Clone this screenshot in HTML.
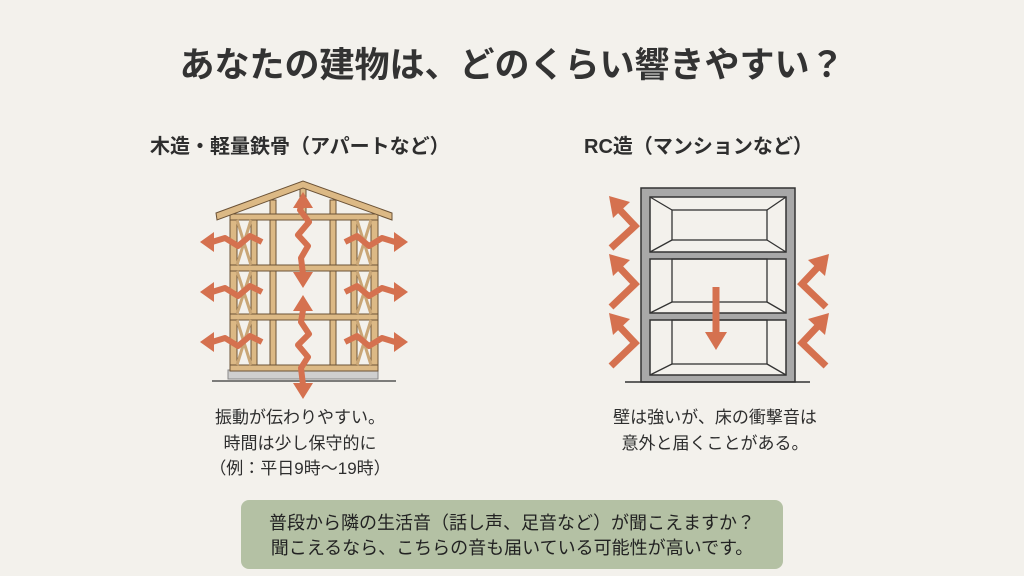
<!DOCTYPE html>
<html><head><meta charset="utf-8"><style>
html,body{margin:0;padding:0;}
body{width:1024px;height:576px;background:#f3f1ec;overflow:hidden;position:relative;font-family:"Liberation Sans","Noto Sans CJK JP",sans-serif;color:#2e2e2e;}
.t{position:absolute;white-space:nowrap;}
</style></head><body>
<div class="t" style="left:0;width:1024px;text-align:center;top:37px;font-size:35px;font-weight:bold;color:#333;">あなたの建物は、どのくらい響きやすい？</div>
<div class="t" style="left:150px;top:130px;font-size:20px;font-weight:bold;">木造・軽量鉄骨（アパートなど）</div>
<div class="t" style="left:584px;top:130px;font-size:20px;font-weight:bold;">RC造（マンションなど）</div>
<div class="t" style="left:150px;width:300px;text-align:center;top:405px;font-size:17px;line-height:25.5px;">振動が伝わりやすい。<br>時間は少し保守的に<br>（例：平日9時〜19時）</div>
<div class="t" style="left:570px;width:290px;text-align:center;top:405px;font-size:17px;line-height:25.5px;">壁は強いが、床の衝撃音は<br>意外と届くことがある。</div>
<div style="position:absolute;left:241px;top:500px;width:542px;height:69px;background:#b4c1a4;border-radius:8px;"></div>
<div class="t" style="left:241px;width:542px;text-align:center;top:511px;font-size:18px;line-height:25px;color:#222;">普段から隣の生活音（話し声、足音など）が聞こえますか？<br>聞こえるなら、こちらの音も届いている可能性が高いです。</div>
<svg width="1024" height="576" style="position:absolute;left:0;top:0">
<g stroke="#6b5236" stroke-width="1" fill="#dcb985">
<rect x="228" y="370" width="150" height="9" fill="#cfcfcf" stroke="#888"/>
<rect x="230" y="214" width="7" height="157"/>
<rect x="251" y="218" width="6" height="152"/>
<rect x="270" y="200" width="6" height="170"/>
<rect x="330" y="200" width="6" height="170"/>
<rect x="351" y="218" width="6" height="152"/>
<rect x="371" y="214" width="7" height="157"/>
<rect x="300" y="188" width="6" height="30"/>
<rect x="230" y="214" width="148" height="6"/>
<rect x="230" y="265" width="148" height="6"/>
<rect x="230" y="314" width="148" height="6"/>
<rect x="230" y="365" width="148" height="6"/>
<g stroke="#c9a676" stroke-width="3">
<line x1="237" y1="220" x2="251" y2="265"/><line x1="251" y1="220" x2="237" y2="265"/>
<line x1="237" y1="271" x2="251" y2="314"/><line x1="251" y1="271" x2="237" y2="314"/>
<line x1="237" y1="320" x2="251" y2="365"/><line x1="251" y1="320" x2="237" y2="365"/>
<line x1="357" y1="220" x2="371" y2="265"/><line x1="371" y1="220" x2="357" y2="265"/>
<line x1="357" y1="271" x2="371" y2="314"/><line x1="371" y1="271" x2="357" y2="314"/>
<line x1="357" y1="320" x2="371" y2="365"/><line x1="371" y1="320" x2="357" y2="365"/>
</g>
<polygon points="216,213 303,181 392,213 392,220 303,188 217,220"/>
</g>
<line x1="212" y1="381" x2="396" y2="381" stroke="#555" stroke-width="1.5"/>
<g fill="none" stroke="#d5714f" stroke-width="6" stroke-linejoin="round">
<path d="M262,242 L250,236 L238,246 L225,238 L212,242"/>
<path d="M262,292 L250,286 L238,296 L225,288 L212,292"/>
<path d="M262,342 L250,336 L238,346 L225,338 L212,342"/>
<path d="M345,242 L357,236 L369,246 L382,238 L395,242"/>
<path d="M345,292 L357,286 L369,296 L382,288 L395,292"/>
<path d="M345,342 L357,336 L369,346 L382,338 L395,342"/>
<path d="M303,200 L300,210 L309,222 L298,235 L308,246 L301,258 L303,274"/>
<path d="M303,310 L301,322 L309,334 L298,345 L308,357 L301,368 L303,385"/>
</g>
<g fill="#d5714f">
<polygon points="200,242 214,232 214,252"/>
<polygon points="200,292 214,282 214,302"/>
<polygon points="200,342 214,332 214,352"/>
<polygon points="408,242 394,232 394,252"/>
<polygon points="408,292 394,282 394,302"/>
<polygon points="408,342 394,332 394,352"/>
<polygon points="303,192 293,208 313,208"/>
<polygon points="303,288 293,272 313,272"/>
<polygon points="303,295 293,311 313,311"/>
<polygon points="303,399 293,383 313,383"/>
</g>
<rect x="641" y="188" width="154" height="194" fill="#a8a8a8" stroke="#333" stroke-width="1.5"/>
<g fill="#f3f1ec" stroke="#333" stroke-width="1.5">
<rect x="650" y="197" width="136" height="55"/>
<rect x="650" y="259" width="136" height="54"/>
<rect x="650" y="320" width="136" height="55"/>
</g>
<g fill="none" stroke="#333" stroke-width="1.3">
<rect x="672" y="210" width="95" height="30"/>
<path d="M650,197 L672,210 M786,197 L767,210 M650,252 L672,240 M786,252 L767,240"/>
<rect x="672" y="259" width="95" height="43"/>
<path d="M650,313 L672,302 M786,313 L767,302"/>
<rect x="672" y="320" width="95" height="44"/>
<path d="M650,375 L672,364 M786,375 L767,364"/>
</g>
<line x1="625" y1="382" x2="810" y2="382" stroke="#333" stroke-width="1.5"/>
<g fill="none" stroke="#d5714f" stroke-width="7">
<path d="M611,248 L635,226 L618,208"/>
<path d="M611,307 L635,284 L618,266"/>
<path d="M611,366 L635,343 L618,325"/>
<path d="M826,307 L802,284 L819,266"/>
<path d="M826,366 L802,343 L819,325"/>
<line x1="716" y1="287" x2="716" y2="335"/>
</g>
<g fill="#d5714f">
<polygon points="609,196 630,202 613,218"/>
<polygon points="609,254 630,260 613,276"/>
<polygon points="609,313 630,319 613,335"/>
<polygon points="829,254 808,260 825,276"/>
<polygon points="829,313 808,319 825,335"/>
<polygon points="716,350 705,332 727,332"/>
</g>
</svg>
</body></html>
